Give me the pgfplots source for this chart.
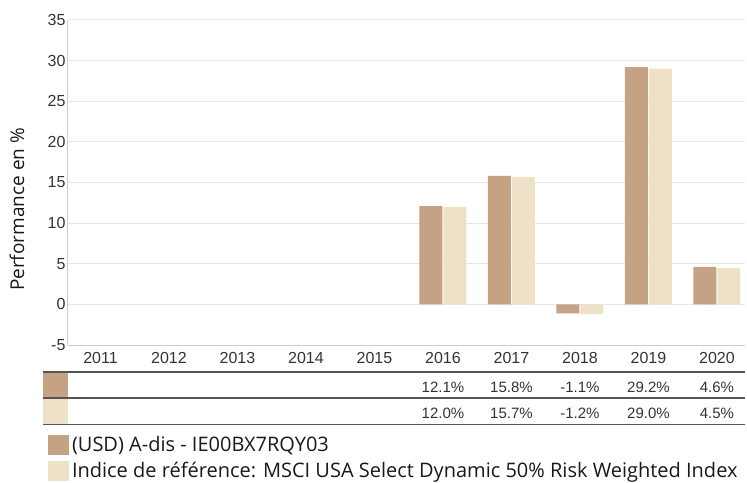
\documentclass[border=0pt]{standalone}
\usepackage{pgfplots}
\pgfplotsset{compat=1.18}
\usepackage{fontspec}
\setmainfont{Liberation Sans}
\newfontfamily\seg{Open Sans}
\definecolor{brownc}{HTML}{C4A283}
\definecolor{creamc}{HTML}{EDE1C7}
\definecolor{gridc}{HTML}{E6E6E6}
\definecolor{axisc}{HTML}{CCCCCC}
\definecolor{txt}{HTML}{333333}
\definecolor{tabline}{HTML}{555555}
\begin{document}
\begin{tikzpicture}[x=1pt,y=1pt]
\useasboundingbox (0,0) rectangle (747,482);
\begin{axis}[
  at={(68pt,137pt)}, anchor=south west, scale only axis,
  width=677pt, height=325pt,
  xmin=-0.474, xmax=9.409, ymin=-5, ymax=35,
  ytick={-5,0,...,35},
  xtick={0,...,9},
  xticklabels={2011,2012,2013,2014,2015,2016,2017,2018,2019,2020},
  axis x line*=bottom, axis y line*=left,
  axis line style={draw=axisc, line width=1pt},
  ymajorgrids, grid style={draw=gridc, line width=1pt},
  major tick length=0pt,
  tick label style={font=\fontsize{16}{18}\selectfont, text=txt},
  yticklabel style={xshift=1pt},
  xticklabel style={yshift=-4pt},
  /pgf/number format/assume math mode=true,
  ylabel={Performance en \%},
  every axis y label/.style={at={(axis description cs:0,0.5)}, xshift=-51pt, yshift=-27pt, rotate=90, anchor=center, font=\seg\fontsize{19}{22}\selectfont, text=black!90},
  ybar, bar width=23pt,
  clip=false,
  legend style={at={(axis description cs:-0.0295,-0.2768)}, anchor=north west, draw=none, fill=none, inner sep=0pt, outer sep=0pt, row sep=6pt, column sep=3pt, font=\seg\fontsize{20}{22}\selectfont, text=black!90, nodes={inner sep=0pt, anchor=west}},
  legend cell align=left,
  legend image code/.code={\fill[#1] (0pt,-10pt) rectangle (21pt,10pt);},
]
\addplot[fill=brownc, draw=none, bar shift=-12pt] coordinates {(5,12.1) (6,15.8) (7,-1.1) (8,29.2) (9,4.6)};
\addlegendentry{(USD) A-dis - IE00BX7RQY03}
\addplot[fill=creamc, draw=none, bar shift=12pt] coordinates {(5,12.0) (6,15.7) (7,-1.2) (8,29.0) (9,4.5)};
\addlegendentry{Indice de référence: MSCI USA Select Dynamic 50\% Risk Weighted Index}
% table
\fill[brownc] (axis cs:-0.839,-8.32) rectangle (axis cs:-0.474,-11.52);
\fill[creamc] (axis cs:-0.839,-11.52) rectangle (axis cs:-0.474,-14.78);
\draw[tabline, line width=1.3pt] (axis cs:-0.839,-8.32) -- (axis cs:9.409,-8.32);
\draw[tabline, line width=1.3pt] (axis cs:-0.839,-11.52) -- (axis cs:9.409,-11.52);
\draw[tabline, line width=1.3pt] (axis cs:-0.839,-14.78) -- (axis cs:9.409,-14.78);
\begin{scope}[every node/.style={font=\fontsize{15}{17}\selectfont, text=txt}]
\node at (axis cs:5,-10.2) {12.1\%};
\node at (axis cs:6,-10.2) {15.8\%};
\node at (axis cs:7,-10.2) {-1.1\%};
\node at (axis cs:8,-10.2) {29.2\%};
\node at (axis cs:9,-10.2) {4.6\%};
\node at (axis cs:5,-13.4) {12.0\%};
\node at (axis cs:6,-13.4) {15.7\%};
\node at (axis cs:7,-13.4) {-1.2\%};
\node at (axis cs:8,-13.4) {29.0\%};
\node at (axis cs:9,-13.4) {4.5\%};
\end{scope}
\end{axis}
\end{tikzpicture}
\end{document}
